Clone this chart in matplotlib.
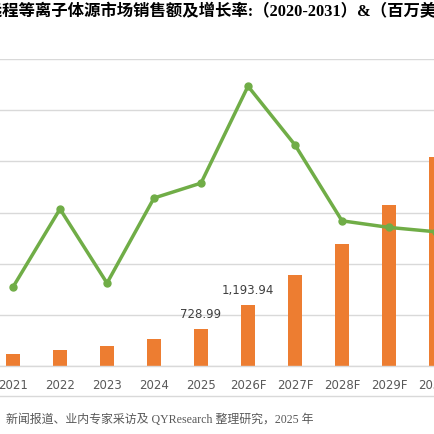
import matplotlib.pyplot as plt

years = ["2020", "2021", "2022", "2023", "2024", "2025",
         "2026F", "2027F", "2028F", "2029F", "2030F", "2031F"]
sales = [192, 227, 318, 383, 520, 728.99,
         1193.94, 1784, 2390, 3138, 4084, 5310]
growth = [None, 18.0, 35.8, 18.9, 38.3, 41.7,
          63.8, 50.4, 33.1, 31.6, 30.6, 30.0]
labelled = {"2025": "728.99", "2026F": "1,193.94"}

title = "全球远程等离子体源市场销售额及增长率:（2020-2031）&（百万美元）"
source = "新闻报道、业内专家采访及 QYResearch 整理研究，2025 年"

orange = "#ED7D31"
green = "#70AD47"
grid = "#D9D9D9"
txt = "#595959"

W = 435.0
fig = plt.figure(figsize=(4.35, 4.35), dpi=100)
fig.patch.set_facecolor("white")

# plot area is wider than the picture: 2020 and 2031F fall outside
ax = fig.add_axes([-57.5 / W, 68 / W, 564 / W, 307 / W])
x = list(range(len(years)))
ax.bar(x, sales, width=0.3, color=orange, zorder=2)
ax.set_xlim(-0.5, len(years) - 0.5)
ax.set_ylim(0, 6000)
ax.set_yticks(range(0, 6001, 1000))
ax.yaxis.grid(True, color=grid, linewidth=1)
ax.set_axisbelow(True)
for s in ["top", "left", "right"]:
    ax.spines[s].set_visible(False)
ax.spines["bottom"].set_color(grid)
ax.spines["bottom"].set_linewidth(1)
ax.tick_params(axis="y", length=0, labelleft=False)
ax.tick_params(axis="x", length=0, pad=9, labelsize=8.5, labelcolor=txt)
ax.set_xticks(x)
ax.set_xticklabels(years)

for i, y in enumerate(years):
    if y in labelled:
        ax.annotate(labelled[y], (i, sales[i]), xytext=(0, 11),
                    textcoords="offset points", ha="center", va="center",
                    fontsize=8.5, color="#404040")

ax2 = ax.twinx()
gx = [i for i, g in zip(x, growth) if g is not None]
gy = [g for g in growth if g is not None]
ax2.plot(gx, gy, color=green, linewidth=2.5, marker="o", markersize=5, zorder=3)
ax2.set_ylim(0, 70)
ax2.axis("off")

fig.text(-46 / W, 1 - 12.5 / W, title, ha="left", va="center",
         fontsize=11.8, fontweight="bold", color="black",
         family=["Liberation Serif", "Noto Sans CJK SC"])

fig.add_artist(plt.Line2D([0, 1], [1 - 397 / W, 1 - 397 / W],
                          color=grid, linewidth=1, transform=fig.transFigure))
fig.text(6 / W, 1 - 420 / W, source, ha="left", va="center",
         fontsize=8.6, color=txt,
         family=["Liberation Serif", "Noto Sans CJK SC"])

fig.savefig("out.png", dpi=100)
